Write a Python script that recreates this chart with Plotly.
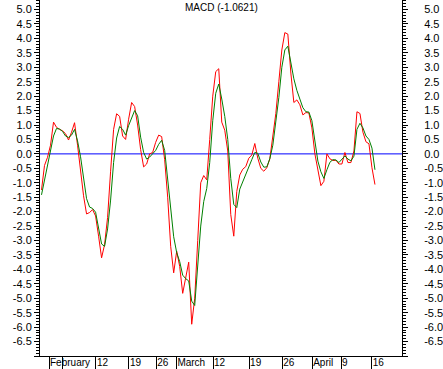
import plotly.graph_objects as go

# MACD line (red) and signal line (green), one value per bar
macd = [
    -1.25, -0.40, -0.12, 0.30, 1.10, 0.92, 0.85, 0.80, 0.70, 0.48,
    0.75, 1.08, 0.30, -0.70, -1.45, -2.08, -2.03, -1.93, -2.15, -2.85,
    -3.60, -3.14, -2.20, -0.60, 0.85, 1.39, 1.30, 0.62, 0.50, 1.20,
    1.78, 1.64, 1.00, 0.15, -0.45, -0.35, 0.00, 0.05, 0.40, 0.65,
    0.60, -0.20, -1.50, -3.20, -4.12, -3.37, -3.90, -4.83, -4.25, -3.75,
    -5.90, -5.00, -3.00, -1.00, -0.75, -0.90, 0.50, 2.00, 2.85, 2.95,
    1.10, 0.82, 0.10, -2.10, -2.85, -1.30, -0.73, -0.53, -0.44, -0.15,
    -0.04, 0.36, -0.15, -0.50, -0.60, -0.48, -0.17, 0.55, 1.40, 2.50,
    3.60, 4.20, 4.15, 2.80, 1.78, 1.87, 1.70, 1.35, 1.43, 1.42,
    0.90, 0.00, -0.52, -1.10, -0.95, 0.00, -0.17, -0.23, -0.22, -0.35,
    -0.35, 0.05, -0.30, -0.30, 0.10, 1.46, 1.40, 0.75, 0.42, 0.35,
    -0.48, -1.0621,
]
signal = [
    -1.42, -0.93, -0.45, 0.02, 0.62, 0.88, 0.86, 0.78, 0.62, 0.57,
    0.65, 0.85, 0.45, -0.10, -0.90, -1.55, -1.84, -1.89, -2.02, -2.60,
    -3.12, -3.20, -2.60, -1.60, -0.30, 0.55, 0.95, 0.85, 0.65, 0.98,
    1.27, 1.50, 1.32, 0.58, 0.05, -0.18, -0.11, 0.02, 0.12, 0.33,
    0.47, 0.12, -0.85, -1.98, -2.87, -3.42, -3.73, -4.20, -4.32, -4.40,
    -5.10, -5.25, -3.90, -2.50, -1.65, -1.20, -0.30, 1.15, 2.10, 2.42,
    1.90, 1.30, 0.50, -0.85, -1.75, -1.86, -1.22, -0.95, -0.75, -0.45,
    -0.20, 0.05, 0.02, -0.28, -0.46, -0.45, -0.17, 0.30, 1.10, 1.95,
    3.00, 3.60, 3.73, 3.10, 2.60, 2.20, 1.90, 1.60, 1.46, 1.45,
    1.15, 0.41, -0.25, -0.62, -0.85, -0.55, -0.29, -0.20, -0.21, -0.30,
    -0.20, -0.07, -0.18, -0.24, -0.08, 0.85, 1.06, 0.90, 0.62, 0.50,
    0.20, -0.55,
]
bars = list(range(len(macd)))

# date axis (bar positions of the week / month ticks)
date_tick_pos = [2.5, 7.1, 18.1, 29.1, 38.2, 44.9, 57.1, 69.1, 80.1, 90.1, 99.7, 109.9]
date_tick_text = ["February", "", "12", "19", "26", "March", "12", "19", "26", "April", "9", "16"]

# value axis
value_tick_pos = [5.0, 4.5, 4.0, 3.5, 3.0, 2.5, 2.0, 1.5, 1.0, 0.5, 0.0, -0.5, -1.0,
                  -1.5, -2.0, -2.5, -3.0, -3.5, -4.0, -4.5, -5.0, -5.5, -6.0, -6.5, -7.0]
value_tick_text = ["5.0", "4.5", "4.0", "3.5", "3.0", "2.5", "2.0", "1.5", "1.0", "0.5", "0.0",
                   "-0.5", "-1.0", "-1.5", "-2.0", "-2.5", "-3.0", "-3.5", "-4.0", "-4.5",
                   "-5.0", "-5.5", "-6.0", "-6.5", ""]
zero_level = 0.0

FONT = "Liberation Sans, Arial, sans-serif"

fig = go.Figure()
fig.add_trace(go.Scatter(x=bars, y=macd, mode="lines", line=dict(color="#FF0000", width=1),
                         hoverinfo="skip", yaxis="y"))
fig.add_trace(go.Scatter(x=bars, y=signal, mode="lines", line=dict(color="#008000", width=1),
                         hoverinfo="skip", yaxis="y2"))

# blue zero reference line across the plot
fig.add_shape(type="line", xref="paper", x0=0, x1=1, yref="y", y0=zero_level, y1=zero_level,
              line=dict(color="#0000FF", width=1), layer="below")

yax_common = dict(
    range=[-7.0, 5.33], tickmode="array", tickvals=value_tick_pos, ticktext=value_tick_text,
    ticks="outside", ticklen=5, tickcolor="black", tickwidth=1,
    showline=True, linecolor="black", linewidth=1, showgrid=False, automargin=False,
    zeroline=False,
    tickfont=dict(family=FONT, size=11, color="black"),
    minor=dict(ticks="outside", ticklen=3, tickcolor="black", dtick=0.1, tick0=0, showgrid=False),
)

fig.update_layout(
    width=443, height=369,
    margin=dict(l=40, r=41, t=0, b=13, pad=0),
    paper_bgcolor="white", plot_bgcolor="white", showlegend=False,
    font=dict(family=FONT, size=10, color="black"),
    xaxis=dict(range=[-0.5, 120], tickmode="array", tickvals=date_tick_pos, ticktext=date_tick_text,
               ticks="outside", ticklen=13, tickcolor="black", tickwidth=1, tickangle=0,
               showline=True, linecolor="black", linewidth=1, showgrid=False, zeroline=False,
               automargin=False,
               ticklabelposition="outside right", ticklabelstandoff=-3,
               tickfont=dict(family=FONT, size=10, color="black")),
    yaxis=dict(**yax_common, side="left"),
    yaxis2=dict(**yax_common, side="right", overlaying="y", matches="y", anchor="x",
                ticklabelstandoff=14),
    annotations=[dict(text="MACD (" + f"{macd[-1]:.4f}" + ")", x=0.5, y=1, xref="paper", yref="paper",
                      xanchor="center", yanchor="top", yshift=0, showarrow=False,
                      font=dict(family=FONT, size=10, color="black"))],
)

fig.write_html("out.html", config={"displayModeBar": False},
               post_script="document.body.style.margin='0';document.body.style.padding='0';")
